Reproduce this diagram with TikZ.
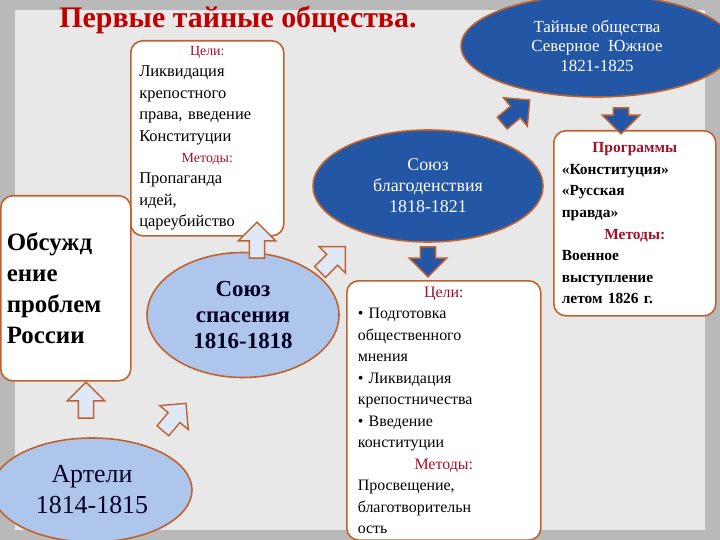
\documentclass[tikz,border=0pt]{standalone}
\usepackage{fontspec}
\setmainfont{Liberation Serif}
\usetikzlibrary{shapes.arrows,shapes.geometric}
\definecolor{brd}{HTML}{C0622D}
\definecolor{dblue}{HTML}{2456A6}
\definecolor{lblue}{HTML}{AFC6EC}
\definecolor{ttl}{HTML}{C00000}
\definecolor{mred}{HTML}{A0102A}
\tikzset{
 box/.style={draw=brd,line width=1.6pt,fill=white,rounded corners=12pt,inner sep=4pt},
 lell/.style={ellipse,draw=brd,line width=1.6pt,fill=lblue,text=black!85!blue,align=center,inner sep=0pt},
 dell/.style={ellipse,draw=brd,line width=1.6pt,fill=dblue,text=white,align=center,inner sep=0pt},
 warr/.style={single arrow,draw=brd,line width=1.4pt,fill=lblue!40,inner xsep=0pt,inner ysep=7pt,single arrow head extend=11pt,minimum height=36pt,single arrow tip angle=90},
 barr/.style={warr,fill=dblue},
}
\newcommand{\hd}[1]{\makebox[\linewidth][c]{\color{mred}#1}}
\begin{document}
\begin{tikzpicture}[x=1bp,y=-1bp]
\fill[gray!55] (0,0) rectangle (720,540);
\fill[gray!18] (15,10) rectangle (705,530);
\useasboundingbox (0,0) rectangle (720,540);
\node[text=ttl,font=\bfseries\fontsize{30}{32}\selectfont] (title) at (238,20) {Первые тайные общества.};
\node[dell,minimum width=272bp,minimum height=102bp,font=\fontsize{17}{20}\selectfont] (tai) at (597,46) {Тайные общества\\Северное~~Южное\\1821-1825};
\node[box,minimum width=153bp,minimum height=195bp,text width=136bp,align=left,anchor=north west,font=\fontsize{16.5}{21.5}\selectfont] (celi) at (130,40)
 {\hd{\fontsize{14}{16}\selectfont Цели:}\\Ликвидация\\крепостного\\права, введение\\Конституции\\\hd{\fontsize{14}{16}\selectfont Методы:}\\Пропаганда\\идей,\\цареубийство};
\node[box,minimum width=130bp,minimum height=185bp,text width=118bp,align=left,anchor=north west,font=\bfseries\fontsize{25}{31}\selectfont] (obs) at (0,195) {Обсужд\\ение\\проблем\\России};
\node[lell,minimum width=192bp,minimum height=125bp,font=\bfseries\fontsize{23}{26}\selectfont] (spas) at (243,315) {Союз\\спасения\\1816-1818};
\node[lell,minimum width=200bp,minimum height=104bp,font=\fontsize{26}{31}\selectfont] (art) at (92,490) {Артели\\1814-1815};
\node[dell,minimum width=230bp,minimum height=112bp,font=\fontsize{18}{21}\selectfont] (blag) at (428,186) {Союз\\благоденствия\\1818-1821};
\node[box,minimum width=194bp,minimum height=248bp,text width=172bp,align=left,anchor=north west,font=\fontsize{16}{21.6}\selectfont,inner sep=6pt] (mid) at (346,280)
 {\hd{Цели:}\\• Подготовка\\общественного\\мнения\\• Ликвидация\\крепостничества\\• Введение\\конституции\\\hd{Методы:}\\Просвещение,\\благотворительн\\ость};
\node[box,minimum width=162bp,minimum height=185bp,text width=146bp,align=left,anchor=north west,font=\bfseries\fontsize{15.5}{21.6}\selectfont,inner sep=6pt] (prog) at (553,130)
 {\hd{Программы}\\«Конституция»\\«Русская\\правда»\\\hd{Методы:}\\Военное\\выступление\\летом 1826 г.};
\node[warr,rotate=90] (a1) at (86,404) {};
\node[warr,rotate=50] (a2) at (172,420) {};
\node[warr,rotate=90] (a3) at (257,244) {};
\node[warr,rotate=45] (a4) at (330,262) {};
\node[barr,rotate=40] (a5) at (513,114) {};
\node[barr,rotate=-90,minimum height=30pt] (a6) at (428,258) {};
\node[barr,rotate=-90,minimum height=26pt] (a7) at (621,117) {};
\end{tikzpicture}
\end{document}
